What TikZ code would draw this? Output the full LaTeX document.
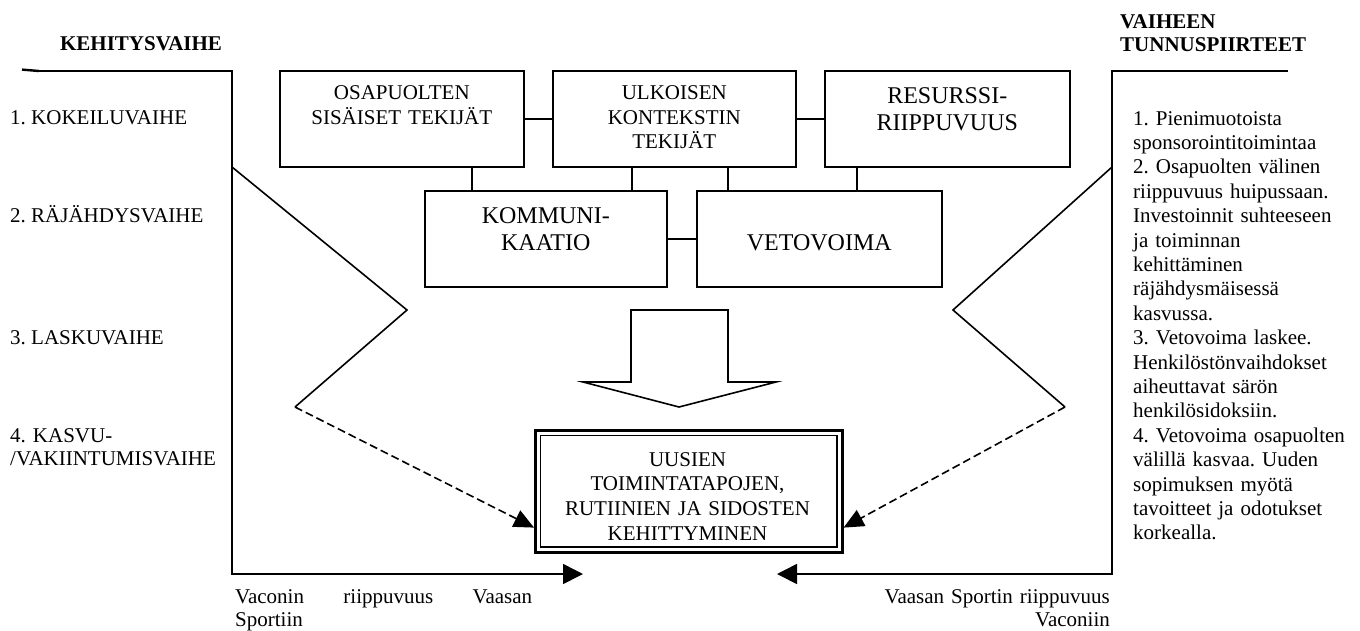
\documentclass[tikz,border=0pt]{standalone}
\usepackage{fontspec}
\setmainfont{Liberation Serif}
\usetikzlibrary{arrows.meta,%
                positioning}
\frenchspacing

\begin{document}
\begin{tikzpicture}[x = 1pt, y = -1pt]
  \useasboundingbox (0,0) rectangle (1360,630);
  \tikzset{BoxStyle/.style   = {shape        = rectangle,
                                draw,
                                line width   = 1.6pt,
                                inner sep    = 0pt,
                                align        = center,
                                anchor       = north west,
                                font         = \fontsize{21}{24.5}\selectfont}}
  \tikzset{BigBoxStyle/.style = {BoxStyle,
                                font         = \fontsize{24}{27}\selectfont}}
  \tikzset{TextStyle/.style  = {inner sep    = 0pt,
                                align        = left,
                                font         = \fontsize{21}{24.5}\selectfont}}
  \tikzset{HeadStyle/.style  = {TextStyle,
                                font         = \fontsize{21}{23}\selectfont\bfseries}}
  \tikzset{LinkStyle/.style  = {line width   = 1.6pt}}
  \tikzset{FlowStyle/.style  = {line width   = 1.6pt,
                                -{Triangle[length=20pt,width=20pt]}}}
  \tikzset{DashStyle/.style  = {line width   = 1.6pt,
                                dash pattern = on 8pt off 4pt,
                                -{Triangle[length=20pt,width=18pt]}}}
  % headings and phases
     \node[HeadStyle,anchor=base](kehitys) at (141,50){KEHITYSVAIHE};
     \node[HeadStyle,anchor=base west,text width=220pt](vaiheen) at (1120,28){VAIHEEN\\TUNNUSPIIRTEET};
     \node[TextStyle,anchor=base west](p1) at (10,124){1. KOKEILUVAIHE};
     \node[TextStyle,anchor=base west](p2) at (10,222){2. RÄJÄHDYSVAIHE};
     \node[TextStyle,anchor=base west](p3) at (10,344){3. LASKUVAIHE};
     \node[TextStyle,anchor=base west,text width=220pt,
           font=\fontsize{21}{23}\selectfont](p4) at (10,442){4. KASVU-\\/VAKIINTUMISVAIHE};
  % factor boxes
     \node[BoxStyle,text width=244pt,text height=29pt,text depth=67pt](osa) at (279,70){OSAPUOLTEN\\SISÄISET TEKIJÄT};
     \node[BoxStyle,text width=243pt,text height=29pt,text depth=67pt](ulk) at (552,70){ULKOISEN\\KONTEKSTIN\\TEKIJÄT};
     \node[BigBoxStyle,text width=245pt,text height=33pt,text depth=63pt](res) at (824,70){RESURSSI-\\RIIPPUVUUS};
     \node[BigBoxStyle,text width=242pt,text height=33pt,text depth=63pt](komm) at (424,190){KOMMUNI-\\KAATIO};
     \node[BigBoxStyle,text width=245pt,text height=60pt,text depth=36pt](veto) at (696,190){VETOVOIMA};
     \draw[LinkStyle](osa) -- (ulk);
     \draw[LinkStyle](ulk) -- (res);
     \draw[LinkStyle](komm) -- (veto);
     \draw[LinkStyle]([xshift=48pt]komm.north west) -- ([xshift=48pt]komm.north west |- osa.south);
     \draw[LinkStyle]([xshift=208pt]komm.north west) -- ([xshift=208pt]komm.north west |- ulk.south);
     \draw[LinkStyle]([xshift=32pt]veto.north west) -- ([xshift=32pt]veto.north west |- ulk.south);
     \draw[LinkStyle]([xshift=161pt]veto.north west) -- ([xshift=161pt]veto.north west |- res.south);
  % block arrow
     \draw[LinkStyle] (631,310) -- (728,310) -- (728,382) -- (776,382) -- (679,407)
                      -- (583,382) -- (631,382) -- cycle;
  % result box
     \node[draw,line width=2.6pt,minimum width=307pt,minimum height=122pt,
           anchor=north west](uusi) at (534,429){};
     \draw[line width=1.6pt]([shift={(6.5,6.5)}]uusi.north west) rectangle ([shift={(-6.5,-6.5)}]uusi.south east);
     \begin{scope}
       \clip (uusi.north west) rectangle ([yshift=14pt]uusi.south east);
       \node[TextStyle,align=center,text width=300pt,anchor=base,
             font=\fontsize{21}{24.7}\selectfont](uusitxt) at (687.5,466)
             {UUSIEN\\TOIMINTATAPOJEN,\\RUTIINIEN JA SIDOSTEN\\KEHITTYMINEN};
     \end{scope}
  % left frame
     \coordinate (L0) at (39,71);
     \coordinate (L1) at (232,71);
     \coordinate (L2) at (232,574);
     \coordinate (L3) at (583,574);
     \coordinate (LZ0) at (232,167);
     \coordinate (LZ1) at (407,310);
     \coordinate (LZ2) at (295,407);
     \draw[line width=2.4pt] (22,69.6) -- (L0);
     \draw[FlowStyle](L0) -- (L1) -- (L2) -- (L3);
     \draw[LinkStyle](LZ0) -- (LZ1) -- (LZ2);
     \draw[DashStyle](LZ2) -- ([yshift=26pt]uusi.south west);
  % right frame
     \coordinate (R0) at (1288,70.7);
     \coordinate (R1) at (1112,70.7);
     \coordinate (R2) at (1112,574);
     \coordinate (R3) at (777,574);
     \coordinate (RZ0) at (1112,167);
     \coordinate (RZ1) at (953,310);
     \coordinate (RZ2) at (1065,407);
     \draw[FlowStyle](R0) -- (R1) -- (R2) -- (R3);
     \draw[LinkStyle](RZ0) -- (RZ1) -- (RZ2);
     \draw[DashStyle](RZ2) -- ([yshift=26pt]uusi.south east);
  % descriptions
     \node[TextStyle,anchor=base west,text width=230pt,
           font=\fontsize{21}{24.4}\selectfont](tunnus) at (1133,125)
           {1. Pienimuotoista\\sponsorointitoimintaa\\2. Osapuolten välinen\\riippuvuus huipussaan.\\%
            Investoinnit suhteeseen\\ja toiminnan\\kehittäminen\\räjähdysmäisessä\\kasvussa.\\%
            3. Vetovoima laskee.\\Henkilöstönvaihdokset\\aiheuttavat särön\\henkilösidoksiin.\\%
            4. Vetovoima osapuolten\\välillä kasvaa. Uuden\\sopimuksen myötä\\tavoitteet ja odotukset\\korkealla.};
     \node[TextStyle,anchor=base west,text width=297pt,
           font=\fontsize{21}{23.5}\selectfont](vaconin) at (235,603)
           {Vaconin\hfill riippuvuus\hfill Vaasan\\Sportiin};
     \node[TextStyle,anchor=base east,text width=240pt,align=right,
           font=\fontsize{21}{23.5}\selectfont](vaasan) at (1110,603)
           {Vaasan Sportin riippuvuus\\Vaconiin};
  \end{tikzpicture}
\end{document}
